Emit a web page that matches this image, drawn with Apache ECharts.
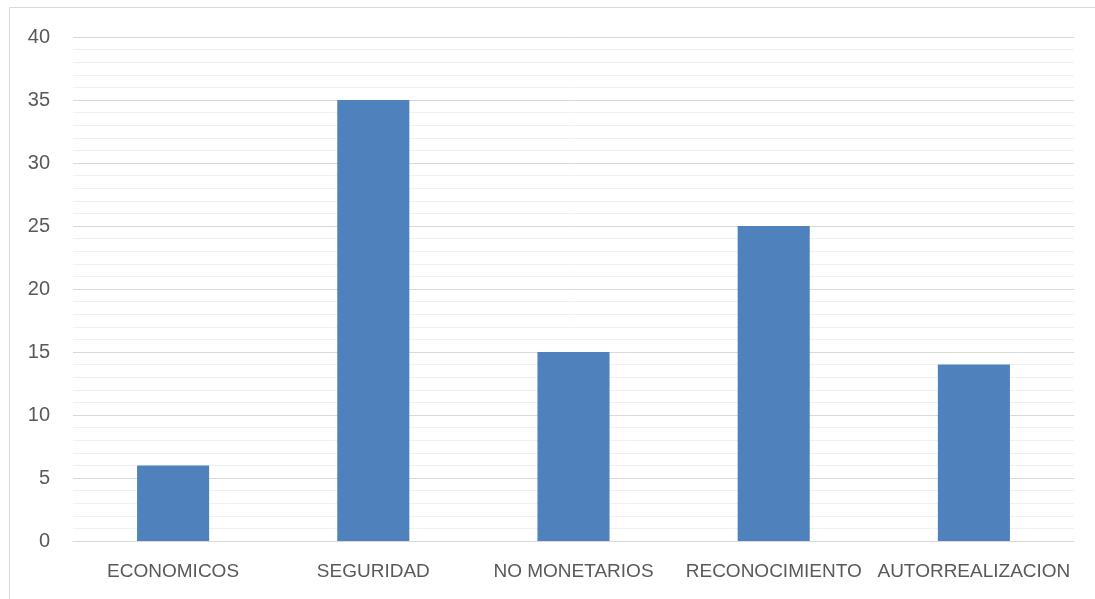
<!DOCTYPE html>
<html>
<head>
<meta charset="utf-8">
<script src="https://cdn.jsdelivr.net/npm/echarts@6/dist/echarts.min.js"></script>
<style>
  html, body { margin: 0; padding: 0; background: #fff; }
  #chart { width: 1095px; height: 599px; }
</style>
</head>
<body>
<div id="chart"></div>
<script>
var categories = ['ECONOMICOS', 'SEGURIDAD', 'NO MONETARIOS', 'RECONOCIMIENTO', 'AUTORREALIZACION'];
var values = [6, 35, 15, 25, 14];
var yTicks = { min: 0, max: 40, step: 5 };

var myChart = echarts.init(document.getElementById('chart'));

var option = {
    animation: false,
    textStyle: { fontFamily: 'Liberation Sans, Arial, sans-serif' },

    // outer frame of the chart area
    graphic: [{
        type: 'rect',
        shape: { x: 9.5, y: 7.5, width: 1200, height: 700 },
        style: { fill: 'none', stroke: '#d9d9d9', lineWidth: 1 },
        silent: true
    }],

    grid: {
        left: 73,
        right: 21,
        top: 37,
        bottom: 58
    },

    xAxis: {
        type: 'category',
        data: categories,
        axisLine: { lineStyle: { color: '#d9d9d9', width: 1 } },
        axisTick: { show: false },
        axisLabel: { color: '#595959', fontSize: 19, margin: 21, interval: 0 }
    },

    yAxis: {
        type: 'value',
        min: yTicks.min,
        max: yTicks.max,
        interval: yTicks.step,
        axisLine: { show: false },
        axisTick: { show: false },
        axisLabel: { color: '#595959', fontSize: 20, margin: 23 },
        splitLine: { lineStyle: { color: '#d9d9d9', width: 1 } },
        minorTick: { show: false, splitNumber: 5 },
        minorSplitLine: { show: true, lineStyle: { color: '#f0f0f0', width: 1 } }
    },

    series: [{
        type: 'bar',
        data: values,
        barWidth: '36%',
        itemStyle: { color: '#4f81bd' }
    }]
};

myChart.setOption(option);
</script>
</body>
</html>
